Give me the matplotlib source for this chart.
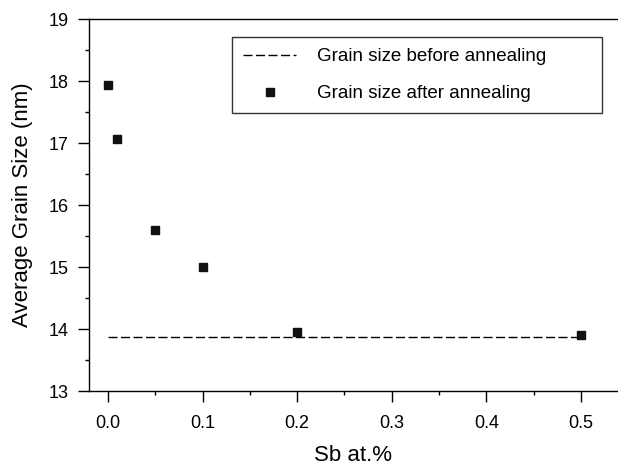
import matplotlib
matplotlib.use("Agg")
import matplotlib.pyplot as plt
from matplotlib.ticker import MultipleLocator

plt.rcParams['font.family'] = ['Liberation Sans', 'DejaVu Sans']

# data
sb_content = [0.0, 0.01, 0.05, 0.1, 0.2, 0.5]
grain_after = [17.93, 17.07, 15.60, 15.00, 13.95, 13.90]
before_x = [0.0, 0.5]
grain_before = [13.87, 13.87]

fig = plt.figure(figsize=(6.18, 4.65), dpi=100)
ax = fig.add_axes([89 / 618, 1 - 391 / 465, 528 / 618, 372 / 465])

ax.plot(before_x, grain_before, color='black', lw=1.0, dashes=(6.5, 2.5),
        label='Grain size before annealing')
ax.plot(sb_content, grain_after, 's', color='#111111', ms=6, ls='none',
        label='Grain size after annealing')

ax.set_xlim(-0.02, 0.538)
ax.set_ylim(13, 19)
ax.xaxis.set_major_locator(MultipleLocator(0.1))
ax.xaxis.set_minor_locator(MultipleLocator(0.05))
ax.yaxis.set_major_locator(MultipleLocator(1))
ax.yaxis.set_minor_locator(MultipleLocator(0.5))
ax.xaxis.set_major_formatter(plt.FuncFormatter(lambda v, p: f"{v:.1f}"))

ax.spines['right'].set_visible(False)
for s in ['left', 'top', 'bottom']:
    ax.spines[s].set_linewidth(1.0)
ax.tick_params(which='major', direction='out', length=8, width=1.0,
               labelsize=13)
ax.tick_params(axis='x', which='major', pad=9.5)
ax.tick_params(axis='y', which='major', pad=6.5)
ax.tick_params(which='minor', direction='out', length=3, width=1.0)
ax.tick_params(top=False, right=False, which='both')

ax.set_xlabel('Sb at.%', fontsize=16, labelpad=9)
ax.set_ylabel('Average Grain Size (nm)', fontsize=16, labelpad=11)

# legend box spans x 232..602, y 37..114 px in the reference
x0, x1 = 232 / 618, 602 / 618
y1, y0 = 1 - 37 / 465, 1 - 114 / 465
leg = ax.legend(loc='upper left', bbox_to_anchor=(x0, y0, x1 - x0, y1 - y0),
                bbox_transform=fig.transFigure, mode='expand',
                fontsize=13.5, frameon=True, fancybox=False,
                edgecolor='black', handlelength=2.8, handletextpad=1.15,
                borderpad=0.6, labelspacing=1.05, borderaxespad=0)
leg.get_frame().set_linewidth(1.0)

fig.savefig('out.png', dpi=100)
